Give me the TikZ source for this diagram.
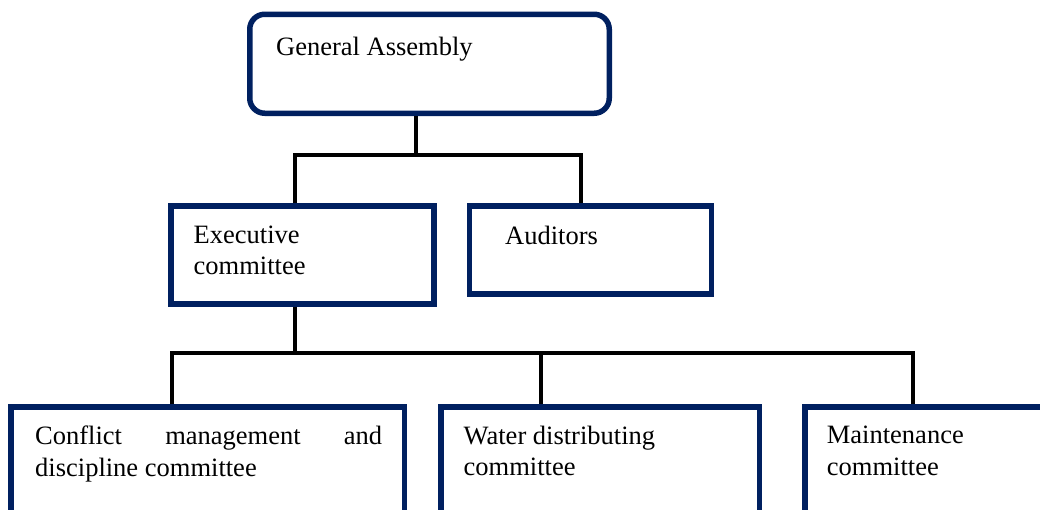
\documentclass[tikz,border=0pt]{standalone}
\usepackage{fontspec}
\setmainfont{Liberation Serif}
\definecolor{navy}{RGB}{0,32,96}
\tikzset{
  orgbox/.style={draw=navy, line width=5.5pt, rectangle, inner sep=0pt},
  gabox/.style={orgbox, rounded corners=15pt},
  lbl/.style={anchor=base west, inner sep=0pt, align=left, font=\fontsize{26.5}{31.5}\selectfont},
  conn/.style={draw=black, line width=3.5pt}
}
\begin{document}
\begin{tikzpicture}[x=1pt, y=-1pt]
\useasboundingbox (0,0) rectangle (1040,509);
\clip (0,0) rectangle (1040,509);
% boxes
\node[gabox, minimum width=359.5pt, minimum height=99pt] (ga) at (429.5,63.75) {};
\node[orgbox, minimum width=263pt, minimum height=98pt] (exec) at (302.5,255) {};
\node[orgbox, minimum width=241.75pt, minimum height=88pt] (aud) at (590.4,250) {};
\node[orgbox, minimum width=393.5pt, minimum height=153pt] (conf) at (207.75,483.5) {};
\node[orgbox, minimum width=318.5pt, minimum height=153pt] (water) at (600.25,483.5) {};
\node[orgbox, minimum width=295pt, minimum height=153pt] (maint) at (952.5,483.5) {};
% labels (base anchor = baseline of the last line)
\node[lbl] (tga) at (276,55) {General Assembly};
\node[lbl] (texec) at (193.5,274.5) {Executive\\committee};
\node[lbl] (taud) at (505,244) {Auditors};
\node[lbl] (tconf) at (35,476) {\makebox[347pt][s]{Conflict management and}\\discipline committee};
\node[lbl] (twater) at (463.5,475.5) {Water distributing\\committee};
\node[lbl] (tmaint) at (826.7,475) {Maintenance\\committee};
% connectors
\coordinate (j1) at (416,155);
\coordinate (b1L) at (295,155);
\coordinate (b1R) at (581,155);
\draw[conn] (j1 |- ga.south) -- (j1);
\draw[conn] (b1L |- exec.north) -- (b1L) -- (b1R) -- (b1R |- aud.north);
\coordinate (j2) at (295,353);
\coordinate (b2L) at (172,353);
\coordinate (b2M) at (541,353);
\coordinate (b2R) at (913,353);
\draw[conn] (j2 |- exec.south) -- (j2);
\draw[conn] (b2L |- conf.north) -- (b2L) -- (b2R) -- (b2R |- maint.north);
\draw[conn] (b2M) -- (b2M |- water.north);
\end{tikzpicture}
\end{document}
